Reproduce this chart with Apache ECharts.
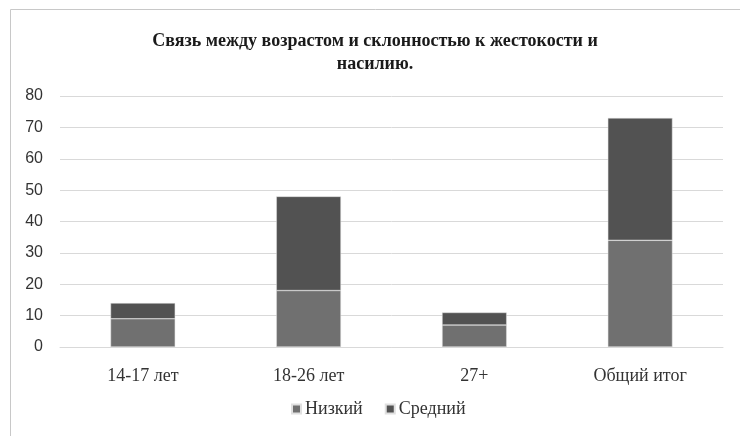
<!DOCTYPE html>
<html>
<head>
<meta charset="UTF-8">
<title>Связь между возрастом и склонностью к жестокости</title>
<script src="https://cdn.jsdelivr.net/npm/echarts@6/dist/echarts.min.js"></script>
<style>
  body { margin: 0; background: #fff; }
  #chart { width: 740px; height: 436px; }
</style>
</head>
<body>
<div id="chart"></div>
<script>
var categories = ["14-17 лет", "18-26 лет", "27+", "Общий итог"];
var nizkiy = [9, 18, 7, 34];
var sredniy = [5, 30, 4, 39];
var yTicks = { min: 0, max: 80, interval: 10 };

var chart = echarts.init(document.getElementById("chart"));
var serif = "'Liberation Serif', 'Times New Roman', serif";

chart.setOption({
    animation: false,
    title: {
        text: "Связь между возрастом и склонностью к жестокости и\nнасилию.",
        left: 370,
        textAlign: "center",
        top: 25,
        textStyle: { fontFamily: serif, fontSize: 18, fontWeight: "bold", color: "#1a1a1a", lineHeight: 23 }
    },
    graphic: [{
        type: "rect",
        shape: { x: 10.5, y: 9.5, width: 760, height: 460 },
        style: { fill: "none", stroke: "#c8c8c8", lineWidth: 1 },
        silent: true
    }],
    legend: {
        bottom: 13,
        left: 286,
        itemWidth: 9,
        itemHeight: 9,
        itemGap: 22,
        icon: "rect",
        textStyle: { fontFamily: serif, fontSize: 18, color: "#333", padding: [0, 0, 0, -1] },
        data: ["Низкий", "Средний"]
    },
    grid: { left: 60, right: 17, top: 96, bottom: 89 },
    xAxis: {
        type: "category",
        data: categories,
        axisLine: { lineStyle: { color: "#d9d9d9" } },
        axisTick: { show: false },
        axisLabel: { fontFamily: serif, fontSize: 18, color: "#333", margin: 20 }
    },
    yAxis: {
        type: "value",
        min: yTicks.min,
        max: yTicks.max,
        interval: yTicks.interval,
        axisLine: { show: false },
        axisTick: { show: false },
        splitLine: { lineStyle: { color: "#d9d9d9" } },
        axisLabel: { fontFamily: "'Liberation Sans', Arial, sans-serif", fontSize: 16, color: "#333", margin: 17 }
    },
    series: [{
        name: "Низкий",
        type: "bar",
        stack: "total",
        barWidth: "39%",
        data: nizkiy,
        itemStyle: { color: "#707070", borderColor: "#e0e0e0", borderWidth: 0.5 }
    }, {
        name: "Средний",
        type: "bar",
        stack: "total",
        data: sredniy,
        itemStyle: { color: "#525252", borderColor: "#e0e0e0", borderWidth: 0.5 }
    }]
});
</script>
</body>
</html>
